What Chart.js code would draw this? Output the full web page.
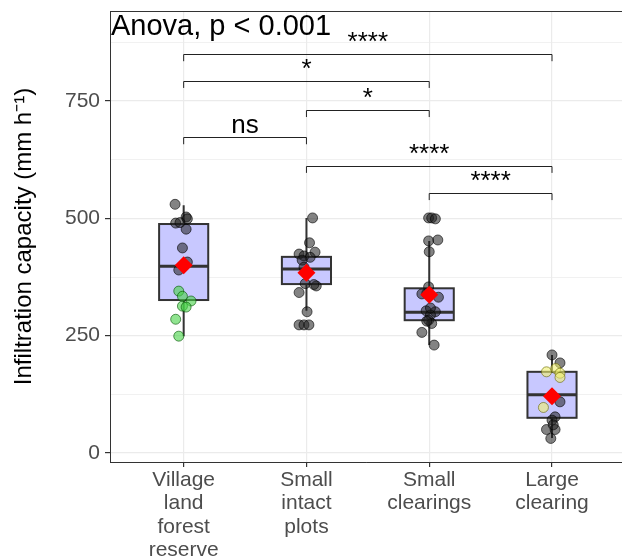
<!DOCTYPE html>
<html>
<head>
<meta charset="UTF-8">
<title>Infiltration capacity</title>
<style>
  html, body { margin: 0; padding: 0; background: #fff; overflow: hidden; }
  canvas { display: block; }
</style>
</head>
<body>
<canvas id="chart" width="622" height="557"></canvas>
<script src="https://cdn.jsdelivr.net/npm/chart.js"></script>
<script>
// categories (multi-line tick labels)
const categories = [
    ["Village", "land", "forest", "reserve"],
    ["Small", "intact", "plots"],
    ["Small", "clearings"],
    ["Large", "clearing"]
];

// box statistics
const whiskerLow = [249, 303, 230, 32];
const boxQ1 = [326, 360, 283, 75];
const boxMedian = [398, 392, 300, 124];
const boxQ3 = [488, 418, 351, 173];
const whiskerHigh = [528, 501, 452, 209];
const groupMeans = [400, 384, 337, 121];

// jittered observations (x = group position + jitter)
const grayX = [0.93, 1.02, 1.03, 0.935, 0.97, 1.02, 0.99, 1.03, 0.96,
    2.05, 2.025, 1.94, 1.98, 2.07, 2.03, 1.965, 1.98, 2.08, 2.06, 1.99, 1.94, 2.005, 1.94, 1.98, 2.02,
    2.995, 3.02, 3.05, 2.995, 3.07, 3.0, 2.995, 2.94, 2.98, 3.075, 2.975, 3.05, 3.01, 2.995, 3.02, 2.94, 3.04, 3.01, 2.98,
    4.0, 4.065, 4.065, 4.025, 4.0, 3.955, 4.025, 3.99, 4.01];
const grayY = [530, 503, 499, 490, 491, 477, 437, 407, 390,
    501, 448, 424, 420, 428, 417, 411, 396, 356, 359, 361, 342, 301, 273, 273, 273,
    501, 501, 499, 452, 454, 429, 354, 339, 340, 332, 303, 301, 294, 283, 276, 257, 230, 309, 281,
    209, 192, 109, 77, 70, 50, 50, 31, 60];
const greenX = [0.96, 0.99, 1.06, 0.99, 1.02, 0.935, 0.96];
const greenY = [345, 334, 324, 313, 311, 285, 249];
const yellowX = [3.955, 4.03, 4.065, 4.065, 3.93];
const yellowY = [173, 180, 170, 161, 97];

// pairwise comparisons
const pairFrom = [1, 1, 2, 1, 2, 3];
const pairTo = [4, 3, 3, 2, 4, 4];
const pairY = [850, 793, 731, 673, 612, 554];
const pairLabel = ["****", "*", "*", "ns", "****", "****"];

const yTicks = [0, 125, 250, 375, 500, 625, 750, 875];

function toPoints(xs, ys) {
    return xs.map((v, i) => ({ x: v, y: ys[i] }));
}

const boxPlugin = {
    id: "boxes",
    beforeDatasetsDraw(chart) {
        const { ctx, chartArea, scales: { x, y } } = chart;
        ctx.save();
        // top panel border
        ctx.strokeStyle = "#333";
        ctx.lineWidth = 1;
        ctx.beginPath();
        ctx.moveTo(chartArea.left, chartArea.top + 0.5);
        ctx.lineTo(chartArea.right, chartArea.top + 0.5);
        ctx.stroke();

        const half = 0.2;
        for (let i = 0; i < categories.length; i++) {
            const g = i + 1;
            const xc = x.getPixelForValue(g);
            const xl = x.getPixelForValue(g - half);
            const xr = x.getPixelForValue(g + half);
            ctx.strokeStyle = "#333";
            ctx.lineWidth = 2;
            ctx.beginPath();
            ctx.moveTo(xc, y.getPixelForValue(whiskerHigh[i]));
            ctx.lineTo(xc, y.getPixelForValue(boxQ3[i]));
            ctx.moveTo(xc, y.getPixelForValue(boxQ1[i]));
            ctx.lineTo(xc, y.getPixelForValue(whiskerLow[i]));
            ctx.stroke();
            const top = y.getPixelForValue(boxQ3[i]);
            const bot = y.getPixelForValue(boxQ1[i]);
            ctx.fillStyle = "#c8c8ff";
            ctx.fillRect(xl, top, xr - xl, bot - top);
            ctx.strokeRect(xl, top, xr - xl, bot - top);
            ctx.lineWidth = 3;
            ctx.beginPath();
            const ym = y.getPixelForValue(boxMedian[i]);
            ctx.moveTo(xl, ym);
            ctx.lineTo(xr, ym);
            ctx.stroke();
        }
        ctx.restore();
    },
    afterDraw(chart) {
        const { ctx, chartArea, scales: { x, y } } = chart;
        ctx.save();
        ctx.strokeStyle = "#222";
        ctx.lineWidth = 1;
        ctx.fillStyle = "#000";
        ctx.textAlign = "center";
        ctx.textBaseline = "alphabetic";
        ctx.font = "26px 'Liberation Sans', Arial";
        const tip = 15;
        for (let i = 0; i < pairFrom.length; i++) {
            const x1 = x.getPixelForValue(pairFrom[i]);
            const x2 = x.getPixelForValue(pairTo[i]);
            const yb = Math.round(y.getPixelForValue(pairY[i])) + 0.5;
            const yt = y.getPixelForValue(pairY[i] - tip);
            ctx.beginPath();
            ctx.moveTo(x1, yt);
            ctx.lineTo(x1, yb);
            ctx.lineTo(x2, yb);
            ctx.lineTo(x2, yt);
            ctx.stroke();
            ctx.fillText(pairLabel[i], (x1 + x2) / 2, yb - 5);
        }
        ctx.textAlign = "left";
        ctx.font = "29px 'Liberation Sans', Arial";
        ctx.fillText("Anova, p < 0.001", chartArea.left + 1, chartArea.top + 24);
        ctx.restore();
    }
};

new Chart(document.getElementById("chart"), {
    type: "scatter",
    data: {
        datasets: [
            {
                label: "mean",
                data: groupMeans.map((v, i) => ({ x: i + 1, y: v })),
                pointStyle: "rectRot",
                pointRadius: 9,
                backgroundColor: "#ff0000",
                borderColor: "#ff0000",
                borderWidth: 0
            },
            {
                label: "yellow",
                data: toPoints(yellowX, yellowY),
                pointRadius: 5,
                backgroundColor: "rgba(240,240,110,0.6)",
                borderColor: "rgba(100,100,0,0.6)",
                borderWidth: 1
            },
            {
                label: "green",
                data: toPoints(greenX, greenY),
                pointRadius: 5,
                backgroundColor: "rgba(70,210,70,0.6)",
                borderColor: "rgba(0,80,0,0.6)",
                borderWidth: 1
            },
            {
                label: "gray",
                data: toPoints(grayX, grayY),
                pointRadius: 5,
                backgroundColor: "rgba(30,30,30,0.55)",
                borderColor: "rgba(0,0,0,0.6)",
                borderWidth: 1
            }
        ]
    },
    options: {
        responsive: false,
        animation: false,
        layout: { autoPadding: false, padding: { top: 11, right: 0, left: 0, bottom: 0 } },
        plugins: {
            legend: { display: false },
            tooltip: { enabled: false }
        },
        scales: {
            x: {
                type: "linear",
                min: 0.4,
                max: 4.57,
                afterBuildTicks: (scale) => {
                    scale.ticks = categories.map((c, i) => ({ value: i + 1 }));
                },
                afterFit: (scale) => {
                    scale.height = 95;
                    scale.paddingLeft = 0;
                    scale.paddingRight = 0;
                },
                ticks: {
                    autoSkip: false,
                    maxRotation: 0,
                    padding: 2,
                    color: "#4d4d4d",
                    font: { family: "'Liberation Sans', Arial", size: 21, lineHeight: 1.1 },
                    callback: (v) => categories[v - 1] || ""
                },
                grid: { color: "#ebebeb", lineWidth: 1.2, tickColor: "#333", tickLength: 5 },
                border: { color: "#333", width: 1 }
            },
            y: {
                min: -19.2,
                max: 942,
                afterBuildTicks: (scale) => {
                    scale.ticks = yTicks.map((v) => ({ value: v }));
                },
                afterFit: (scale) => {
                    scale.width = 110;
                    scale.paddingTop = 0;
                    scale.paddingBottom = 0;
                },
                ticks: {
                    padding: 5,
                    color: "#4d4d4d",
                    font: { family: "'Liberation Sans', Arial", size: 21 },
                    callback: (v) => (v % 250 === 0 ? String(v) : "")
                },
                grid: {
                    color: "#ebebeb",
                    lineWidth: (c) => (c.tick && c.tick.value % 250 === 0 ? 1.2 : 0.7),
                    tickColor: (c) => (c.tick && c.tick.value % 250 === 0 ? "#333" : "rgba(0,0,0,0)"),
                    tickLength: 5
                },
                border: { color: "#333", width: 1 },
                title: {
                    display: true,
                    text: "Infiltration capacity (mm h\u207B\u00B9)",
                    color: "#000",
                    font: { family: "'Liberation Sans', Arial", size: 24 },
                    padding: { top: 10, bottom: 0 }
                }
            }
        }
    },
    plugins: [boxPlugin]
});
</script>
</body>
</html>
